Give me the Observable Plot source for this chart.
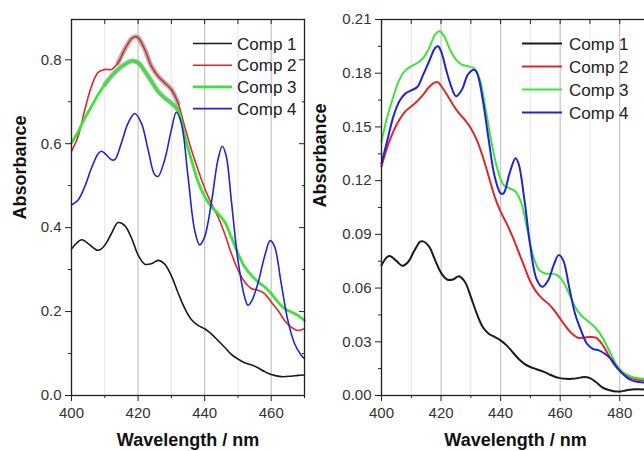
<!DOCTYPE html>
<html>
<head>
<meta charset="utf-8">
<script src="https://cdn.jsdelivr.net/npm/d3@7"></script>
<script src="https://cdn.jsdelivr.net/npm/@observablehq/plot@0.6"></script>
<style>
  html, body { margin: 0; padding: 0; background: #fff; }
  #wrap { position: relative; width: 644px; height: 451px; overflow: hidden; background: #fff; }
  #left, #right { position: absolute; top: 0; }
  #left { left: 0; }
  #right { left: 310px; width: 369px; }
  #wrap svg { max-width: none !important; }
</style>
</head>
<body>
<div id="wrap"><div id="left"></div><div id="right"></div></div>
<script>
// ---------- DATA (wavelength nm, absorbance) ----------
const seriesNames = ["Comp 1", "Comp 2", "Comp 3", "Comp 4"];
const seriesColors = ["#1a1a1a", "#e0262a", "#3be33b", "#2222d6"];

// Left panel
const leftComp1 = [[400,0.349],[403,0.371],[405,0.362],[408,0.346],[410,0.358],[412,0.386],[414,0.412],[416,0.405],[418,0.376],[420,0.335],[422,0.313],[424,0.314],[426,0.322],[428,0.313],[430,0.285],[432,0.245],[434,0.208],[436,0.181],[438,0.167],[440,0.159],[442,0.147],[444,0.131],[446,0.115],[448,0.098],[450,0.087],[452,0.078],[454,0.073],[456,0.066],[458,0.057],[460,0.050],[463,0.045],[466,0.046],[468,0.048],[470,0.049]];
const leftComp2 = [[400,0.582],[402,0.618],[404,0.681],[406,0.737],[408,0.770],[410,0.777],[412,0.777],[414,0.793],[416,0.825],[418,0.850],[419,0.855],[420,0.853],[422,0.825],[424,0.785],[426,0.761],[428,0.745],[430,0.729],[432,0.697],[434,0.641],[436,0.586],[438,0.538],[440,0.494],[442,0.458],[444,0.426],[446,0.386],[448,0.339],[450,0.299],[452,0.271],[454,0.255],[456,0.251],[458,0.243],[460,0.223],[462,0.203],[464,0.179],[466,0.163],[468,0.155],[470,0.159]];
const leftComp3 = [[400,0.602],[402,0.629],[404,0.661],[406,0.689],[408,0.717],[410,0.741],[412,0.761],[414,0.777],[416,0.789],[418,0.797],[420,0.793],[422,0.773],[424,0.749],[426,0.725],[428,0.709],[430,0.697],[432,0.681],[434,0.618],[436,0.562],[438,0.510],[440,0.474],[442,0.450],[444,0.434],[446,0.414],[448,0.378],[450,0.339],[452,0.307],[454,0.287],[456,0.271],[458,0.259],[460,0.243],[462,0.223],[464,0.207],[466,0.199],[468,0.191],[470,0.179]];
const leftComp4 = [[400,0.454],[402,0.466],[404,0.498],[406,0.542],[408,0.576],[409,0.582],[410,0.577],[412,0.562],[413,0.562],[415,0.602],[417,0.649],[419,0.672],[421,0.649],[423,0.586],[425,0.526],[426,0.522],[428,0.562],[430,0.633],[431.5,0.675],[433,0.649],[435,0.522],[437,0.394],[438.5,0.359],[440,0.378],[442,0.458],[444,0.562],[445.3,0.594],[446.5,0.570],[448,0.466],[450,0.323],[452,0.235],[453,0.215],[454,0.223],[456,0.267],[458,0.331],[459.7,0.369],[461,0.355],[463,0.267],[465,0.179],[467,0.124],[469,0.096],[470,0.088]];

// Right panel
const rightComp1 = [[400,0.0728],[402,0.0775],[403,0.0778],[405,0.0752],[407,0.0724],[409,0.0747],[411,0.0808],[413,0.0859],[414,0.0861],[416,0.0831],[418,0.0756],[420,0.0685],[422,0.0648],[424,0.0648],[426,0.0666],[428,0.0635],[430,0.0551],[432,0.0457],[434,0.0383],[436,0.0345],[438,0.0327],[440,0.0308],[442,0.0280],[444,0.0243],[446,0.0205],[448,0.0177],[450,0.0159],[452,0.0147],[454,0.0136],[456,0.0121],[458,0.0106],[460,0.0097],[462,0.0093],[464,0.0093],[466,0.0097],[468,0.0103],[470,0.0097],[472,0.0075],[474,0.0047],[476,0.0032],[478,0.0024],[480,0.0022],[482,0.0028],[484,0.0034],[486,0.0035],[490,0.0032]];
const rightComp2 = [[400,0.1279],[402,0.139],[404,0.1475],[406,0.154],[408,0.1587],[410,0.1615],[412,0.1643],[414,0.168],[416,0.1723],[418,0.1749],[419,0.1749],[420,0.173],[422,0.168],[424,0.1624],[426,0.1577],[428,0.154],[430,0.1493],[432,0.1428],[434,0.1335],[436,0.1223],[438,0.1111],[440,0.1027],[442,0.0961],[444,0.0887],[446,0.0803],[448,0.0719],[450,0.0635],[452,0.0579],[454,0.0541],[456,0.0513],[458,0.0476],[460,0.0429],[462,0.0383],[464,0.0345],[466,0.0323],[468,0.0323],[470,0.0327],[472,0.0323],[474,0.0289],[476,0.0233],[478,0.0177],[480,0.0140],[482,0.0112],[484,0.0097],[486,0.0088],[490,0.0084]];
const rightComp3 = [[400,0.1419],[402,0.1559],[404,0.167],[406,0.1764],[408,0.1816],[410,0.1839],[412,0.1857],[414,0.1885],[416,0.1941],[418,0.2016],[419.5,0.2035],[421,0.2007],[423,0.1932],[425,0.1876],[427,0.1848],[429,0.1839],[431,0.1829],[433,0.1764],[435,0.1596],[437,0.1409],[439,0.126],[441,0.1176],[443,0.1157],[445,0.1139],[447,0.1073],[449,0.0924],[451,0.0775],[453,0.070],[455,0.0681],[457,0.0681],[459,0.0672],[461,0.0635],[463,0.0569],[465,0.0495],[467,0.0448],[469,0.042],[471,0.0392],[473,0.0355],[475,0.0299],[477,0.0233],[479,0.0168],[481,0.0131],[483,0.0112],[485,0.0099],[490,0.0091]];
const rightComp4 = [[400,0.1297],[402,0.1428],[404,0.1559],[406,0.1643],[408,0.1686],[410,0.1704],[412,0.1723],[414,0.1792],[416,0.1867],[418,0.1941],[419,0.1951],[420,0.1923],[422,0.1801],[424,0.1699],[425,0.1671],[427,0.1708],[429,0.1792],[431,0.182],[432,0.1805],[434,0.1652],[436,0.1428],[438,0.1223],[440,0.1129],[441,0.1129],[443,0.1241],[445,0.1325],[446,0.1297],[448,0.1092],[450,0.0831],[452,0.0653],[454,0.0607],[456,0.0644],[458,0.0737],[459.5,0.0784],[461,0.0756],[463,0.0607],[465,0.0457],[467,0.0364],[469,0.0289],[471,0.0261],[473,0.0252],[475,0.0233],[477,0.0205],[479,0.0159],[481,0.0121],[483,0.0093],[485,0.008],[490,0.0069]];

// Ticks
const leftXMajor = [400, 420, 440, 460];
const leftXMinor = [410, 430, 450, 470];
const leftYMajor = [0, 0.2, 0.4, 0.6, 0.8];
const leftYMinor = [0.1, 0.3, 0.5, 0.7];
const rightXMajor = [400, 420, 440, 460, 480];
const rightXMinor = [410, 430, 450, 470, 490];
const rightYMajor = [0, 0.03, 0.06, 0.09, 0.12, 0.15, 0.18, 0.21];
const rightYMinor = [0.015, 0.045, 0.075, 0.105, 0.135, 0.165, 0.195];

const xTitle = "Wavelength / nm";
const yTitle = "Absorbance";

// ---------- DRAW ----------
function panel(cfg) {
  const marks = [
    Plot.ruleX(cfg.xMinor, {stroke: "#e4e4e4", strokeWidth: 1}),
    Plot.ruleX(cfg.xMajor, {stroke: "#c4c4c4", strokeWidth: 1.2}),
  ];
  if (cfg.band) {
    for (const [idx, lo, hi] of cfg.band) {
      marks.push(Plot.line(cfg.series[idx].filter(d => d[0] >= lo && d[0] <= hi),
        {x: d => d[0], y: d => d[1], stroke: "#9a9a9a", strokeWidth: 5, strokeOpacity: 0.7, curve: "catmull-rom"}));
    }
  }
  cfg.series.forEach((arr, i) => {
    marks.push(Plot.line(arr, {x: d => d[0], y: d => d[1], stroke: seriesColors[i],
      strokeWidth: cfg.widths[i], curve: "catmull-rom"}));
  });
  marks.push(
    Plot.frame({stroke: "#222", strokeWidth: 1.3}),
    Plot.axisX({anchor: "bottom", ticks: cfg.xMajor, tickSize: 6, tickPadding: 6, tickFormat: d => String(d), label: null, fontSize: 15, stroke: "#222"}),
    Plot.axisX({anchor: "bottom", ticks: cfg.xMinor, tickSize: 3, tickFormat: () => "", label: null, stroke: "#222"}),
    Plot.axisX({anchor: "top", ticks: cfg.xMajor.concat(cfg.xMinor), tickSize: -4, tickFormat: () => "", label: null, stroke: "#222"}),
    Plot.axisY({anchor: "left", ticks: cfg.yMajor, tickSize: 6, tickPadding: 4, tickFormat: cfg.fmt, label: null, fontSize: 15, stroke: "#222"}),
    Plot.axisY({anchor: "left", ticks: cfg.yMinor, tickSize: 3, tickFormat: () => "", label: null, stroke: "#222"}),
    Plot.axisY({anchor: "right", ticks: cfg.yMajor, tickSize: -6, tickFormat: () => "", label: null, stroke: "#222"}),
    Plot.axisY({anchor: "right", ticks: cfg.yMinor, tickSize: -3, tickFormat: () => "", label: null, stroke: "#222"}),
    Plot.text([xTitle], {frameAnchor: "bottom", dy: 50, fontWeight: "bold", fontSize: 18, fill: "#111"}),
    Plot.text([yTitle], {frameAnchor: "left", dx: cfg.yTitleDx, dy: cfg.yTitleDy, rotate: -90, fontWeight: "bold", fontSize: 18, fill: "#111"})
  );
  const chart = Plot.plot({
    width: cfg.width,
    height: 451,
    marginLeft: 71,
    marginRight: cfg.marginRight,
    marginTop: 19,
    marginBottom: 56,
    x: {domain: cfg.xDomain},
    y: {domain: cfg.yDomain},
    style: {fontFamily: "'Liberation Sans', Arial, sans-serif", fontSize: "15px", color: "#333", background: "transparent", overflow: "visible", maxWidth: "none"},
    marks
  });
  // legend (layout decoration)
  const svg = d3.select(chart);
  const g = svg.append("g").attr("font-family", "'Liberation Sans', Arial, sans-serif").attr("font-size", 17).attr("text-anchor", "start");
  seriesNames.forEach((name, i) => {
    const y = cfg.legend.y0 + i * cfg.legend.dy;
    g.append("line").attr("x1", cfg.legend.x0).attr("x2", cfg.legend.x1).attr("y1", y).attr("y2", y)
      .attr("stroke", seriesColors[i]).attr("stroke-width", cfg.legend.sw[i]);
    g.append("text").attr("x", cfg.legend.tx).attr("y", y).attr("dy", "0.36em").attr("text-anchor", "start").attr("fill", "#222").text(name);
  });
  return chart;
}

document.getElementById("left").appendChild(panel({
  width: 330, marginRight: 26,
  xDomain: [400, 470], yDomain: [0, 0.896],
  xMajor: leftXMajor, xMinor: leftXMinor, yMajor: leftYMajor, yMinor: leftYMinor,
  fmt: d => d.toFixed(1),
  series: [leftComp1, leftComp2, leftComp3, leftComp4],
  widths: [1.6, 1.6, 2.8, 1.6],
  band: [[1, 414, 432], [2, 410, 432]],
  yTitleDx: -51, yTitleDy: 12,
  legend: {x0: 193, x1: 232, tx: 237, y0: 43.5, dy: 21.7, sw: [1.6, 1.6, 2.8, 1.6]}
}));

document.getElementById("right").appendChild(panel({
  width: 369, marginRight: 30,
  xDomain: [400, 490], yDomain: [0, 0.21],
  xMajor: rightXMajor, xMinor: rightXMinor, yMajor: rightYMajor, yMinor: rightYMinor,
  fmt: d => d.toFixed(2),
  series: [rightComp1, rightComp2, rightComp3, rightComp4],
  widths: [2, 2, 2, 2],
  band: null,
  yTitleDx: -61, yTitleDy: 0,
  legend: {x0: 212, x1: 252, tx: 259, y0: 43.5, dy: 23, sw: [2, 2, 2, 2]}
}));
</script>
</body>
</html>
